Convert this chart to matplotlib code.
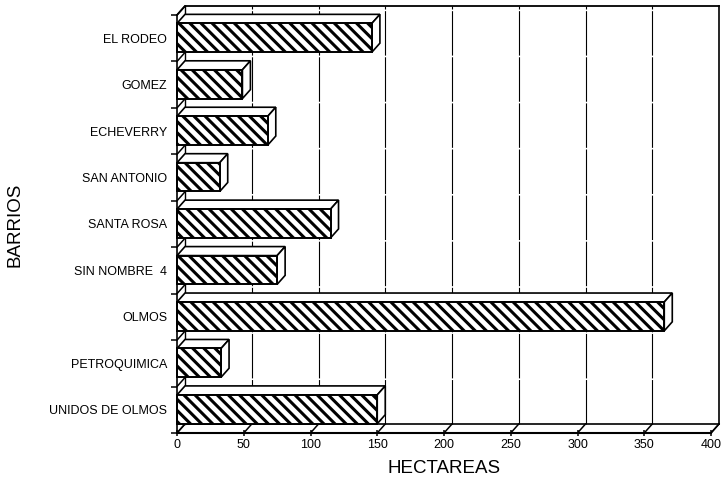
import matplotlib
matplotlib.use("Agg")
import matplotlib.pyplot as plt
from matplotlib.patches import Polygon

plt.rcParams['font.family'] = ['Liberation Sans', 'DejaVu Sans']
plt.rcParams['hatch.linewidth'] = 2.2

barrios = ["EL RODEO", "GOMEZ", "ECHEVERRY", "SAN ANTONIO", "SANTA ROSA",
           "SIN NOMBRE  4", "OLMOS", "PETROQUIMICA", "UNIDOS DE OLMOS"]
hectareas = [146, 49, 68, 32, 115, 75, 365, 33, 150]
x_ticks = [0, 50, 100, 150, 200, 250, 300, 350, 400]
x_label = "HECTAREAS"
y_label = "BARRIOS"

W, H = 727, 483
fig = plt.figure(figsize=(W / 100, H / 100), dpi=100)
ax = fig.add_axes([177 / W, (H - 433) / H, 534 / W, 418 / H])

n = len(barrios)
xmax = x_ticks[-1]
ax.set_xlim(0, xmax)
ax.set_ylim(-0.5, n - 0.5)

# depth offsets (data units)
dx = 8 / 534 * xmax
dy = 9 / 418 * n

ypos = [n - 1 - i for i in range(n)]
bar_h = 0.62
bar_off = 0.01

lk = dict(color='black', clip_on=False)

# back wall grid lines
for v in x_ticks[1:-1]:
    ax.plot([v + dx, v + dx], [-0.5 + dy, n - 0.5 + dy], lw=0.8,
            linestyle=(0, (40, 1.5)), zorder=1, **lk)
# back wall right edge
ax.plot([xmax + dx, xmax + dx], [-0.5 + dy, n - 0.5 + dy], lw=1.2, zorder=1, **lk)
# back wall left edge
ax.plot([dx, dx], [-0.5 + dy, n - 0.5 + dy], lw=1.0, zorder=1, **lk)
# top line
ax.plot([0, dx, xmax + dx], [n - 0.5, n - 0.5 + dy, n - 0.5 + dy], lw=1.3, zorder=1, **lk)
# floor back line
ax.plot([dx, xmax + dx], [-0.5 + dy, -0.5 + dy], lw=1.2, zorder=1, **lk)
# floor slants at ticks
for v in x_ticks:
    ax.plot([v, v + dx], [-0.5, -0.5 + dy], lw=1.1, zorder=1, **lk)
# left wall slants at category boundaries
for b in range(n + 1):
    yb = b - 0.5
    ax.plot([0, dx], [yb, yb + dy], lw=1.1, zorder=1, **lk)

# bars: front faces with hatch
ax.barh(ypos, hectareas, height=bar_h, left=0, color='white', edgecolor='black',
        hatch='\\\\\\', linewidth=1.4, zorder=3, clip_on=False,
        align='center')
for bar in ax.patches:
    bar.set_y(bar.get_y() + bar_off)

# top and side faces
for y, v in zip(ypos, hectareas):
    yt = y + bar_off + bar_h / 2
    yb = y + bar_off - bar_h / 2
    top = Polygon([(0, yt), (v, yt), (v + dx, yt + dy), (dx, yt + dy)],
                  closed=True, facecolor='white', edgecolor='black', lw=1.2,
                  zorder=2.5, clip_on=False)
    side = Polygon([(v, yb), (v, yt), (v + dx, yt + dy), (v + dx, yb + dy)],
                   closed=True, facecolor='white', edgecolor='black', lw=1.2,
                   zorder=2.5, clip_on=False)
    ax.add_patch(top)
    ax.add_patch(side)

# front axes lines
ax.plot([0, xmax], [-0.5, -0.5], lw=1.5, zorder=4, **lk)
ax.plot([0, 0], [-0.5, n - 0.5], lw=1.2, zorder=4, **lk)
ax.plot([xmax, xmax + dx], [-0.5, -0.5 + dy], lw=1.1, zorder=4, **lk)

for s in ax.spines.values():
    s.set_visible(False)

ax.set_yticks(ypos)
ax.set_yticklabels(barrios, fontsize=9)
ax.set_yticks([b - 0.5 for b in range(n + 1)], minor=True)
ax.tick_params(axis='y', which='major', length=0, pad=7)
ax.tick_params(axis='y', which='minor', length=4, width=1.1, direction='out')

ax.set_xticks(x_ticks)
ax.set_xticklabels([str(t) for t in x_ticks], fontsize=9)
ax.tick_params(axis='x', which='major', length=5, width=1.1, direction='inout', pad=2)

ax.set_xlabel(x_label, fontsize=13.5, labelpad=6)
ax.set_ylabel(y_label, fontsize=13.5)
ax.yaxis.set_label_coords((24 - 177) / 534, (433 - 225) / 418)

fig.savefig("out.png", dpi=100)
